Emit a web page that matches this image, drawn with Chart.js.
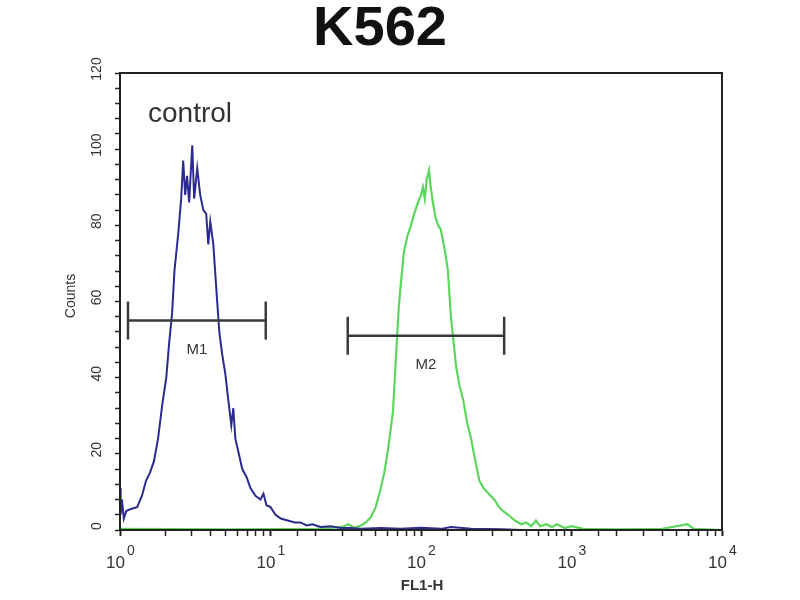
<!DOCTYPE html>
<html>
<head>
<meta charset="utf-8">
<script src="https://cdn.jsdelivr.net/npm/chart.js@4/dist/chart.umd.min.js"></script>
<style>
    html, body { margin: 0; padding: 0; background: #fff; }
</style>
</head>
<body>
<canvas id="histChart" width="800" height="600"></canvas>
<script>
// control histogram (blue)
const controlX = [1.0, 1.01, 1.03, 1.06, 1.1, 1.18, 1.3, 1.4, 1.49, 1.58, 1.68, 1.79, 1.91, 2.03, 2.12, 2.22,
    2.3, 2.44, 2.55, 2.63, 2.71, 2.79, 2.88, 3.02, 3.11, 3.26, 3.41, 3.58, 3.74, 3.86, 3.98, 4.17, 4.37,
    4.57, 4.78, 5.01, 5.25, 5.49, 5.66, 5.84, 6.12, 6.49, 6.92, 7.36, 7.94, 8.58, 8.98, 9.4, 10.0, 10.8,
    11.7, 13.0, 14.5, 15.8, 17.4, 19.0, 21.5, 25.1, 29.3, 34.1, 39.8, 54.1, 73.6, 100, 136, 158, 215,
    341, 464, 1000, 10000];
const controlY = [11, 4, 8, 3, 5, 5.5, 6, 9, 13, 15, 18, 24, 33, 40, 49, 57,
    68, 78, 87, 97, 88, 93, 86, 101, 87, 95, 88, 84, 83, 75, 81, 75, 63,
    52, 46, 41, 34, 27.5, 32, 24, 20.5, 16, 14, 11, 9, 8, 9.5, 6.5, 6, 4,
    3, 2.5, 2, 2, 1.2, 1.5, 0.8, 1, 0.5, 0.5, 0.3, 0.5, 0.3, 0.6, 0.3, 0.8, 0.3,
    0.2, 0, 0, 0];

// stained sample histogram (green)
const sampleX = [1.0, 5, 20, 30, 33, 36, 40, 43, 46.4, 50, 54.1, 57, 60.3, 65.1, 68.1, 71.3, 74, 77,
    81, 85.8, 90, 95.5, 100, 103, 106, 109, 113, 116, 120, 125, 130, 135, 140, 146, 151, 158, 164,
    171, 180, 191, 203, 215, 230, 244, 260, 275, 290, 307, 330, 350, 380, 420, 464, 500, 540, 580,
    620, 680, 740, 800, 900, 1000, 1200, 2000, 4000, 5900, 6500, 10000];
const sampleY = [0.3, 0.2, 0.3, 0.8, 1.5, 0.6, 1.2, 2, 3.4, 6, 11, 15, 21, 31, 45, 59, 66, 73,
    77, 80, 83, 86, 88, 90, 87, 92, 94.5, 90, 86, 82, 80, 79, 76, 72, 68, 56, 50,
    43, 38, 34, 28, 24, 18, 13, 11, 10, 9, 8, 6, 5, 4, 2.5, 1.5, 2, 1, 2.5,
    1, 1.5, 0.8, 1.5, 0.5, 1, 0.3, 0.2, 0.3, 1.5, 0.3, 0];

// gate markers
const m1Range = [1.13, 9.3];
const m1Level = 55;
const m2Range = [32.6, 357];
const m2Level = 51;

// axis labels
const yTickLabels = [0, 20, 40, 60, 80, 100, 120];
const xDecades = [0, 1, 2, 3, 4];

function toPoints(xs, ys) {
    return xs.map((v, i) => ({ x: v, y: ys[i] }));
}

function markerData(range, level) {
    return [{ x: range[0], y: level }, { x: range[1], y: level }];
}

const textPlugin = {
    id: 'histText',
    afterDraw(chart) {
        const { ctx, chartArea: a, scales: { x, y } } = chart;
        ctx.save();

        // frame round the plot
        ctx.strokeStyle = '#222';
        ctx.lineWidth = 2;
        ctx.strokeRect(a.left, a.top, a.right - a.left, a.bottom - a.top);

        // title
        ctx.fillStyle = '#111';
        ctx.font = 'bold 56px "Liberation Sans", Arial, sans-serif';
        ctx.textAlign = 'center';
        ctx.textBaseline = 'alphabetic';
        ctx.fillText('K562', 380, 45);

        ctx.fillStyle = '#333';
        ctx.font = '28px "Liberation Sans", Arial, sans-serif';
        ctx.textAlign = 'left';
        ctx.fillText('control', 148, 122);

        // marker labels
        ctx.font = '15px "Liberation Sans", Arial, sans-serif';
        ctx.textAlign = 'center';
        ctx.textBaseline = 'middle';
        ctx.fillText('M1', x.getPixelForValue(Math.sqrt(m1Range[0] * m1Range[1])), y.getPixelForValue(m1Level) + 29);
        ctx.fillText('M2', x.getPixelForValue(Math.sqrt(m2Range[0] * m2Range[1])), y.getPixelForValue(m2Level) + 29);

        // y tick labels, turned
        ctx.font = '14px "Liberation Sans", Arial, sans-serif';
        yTickLabels.forEach(v => {
            ctx.save();
            ctx.translate(97, y.getPixelForValue(v) - 4);
            ctx.rotate(-Math.PI / 2);
            ctx.fillText(String(v), 0, 0);
            ctx.restore();
        });

        // y axis title
        ctx.save();
        ctx.translate(71, 296);
        ctx.rotate(-Math.PI / 2);
        ctx.fillText('Counts', 0, 0);
        ctx.restore();

        // x tick labels 10^n
        ctx.textBaseline = 'alphabetic';
        xDecades.forEach(e => {
            const px = x.getPixelForValue(Math.pow(10, e));
            ctx.font = '17px "Liberation Sans", Arial, sans-serif';
            ctx.textAlign = 'right';
            ctx.fillText('10', px + 5, 568);
            ctx.font = '14px "Liberation Sans", Arial, sans-serif';
            ctx.textAlign = 'left';
            ctx.fillText(String(e), px + 7, 555);
        });

        // x axis title
        ctx.font = 'bold 15px "Liberation Sans", Arial, sans-serif';
        ctx.textAlign = 'center';
        ctx.fillText('FL1-H', 422, 590);

        ctx.restore();
    }
};

const markerStyle = {
    borderColor: '#3a3a3a',
    borderWidth: 2.5,
    pointStyle: 'line',
    pointRotation: 90,
    pointRadius: 19,
    pointBorderColor: '#3a3a3a',
    pointBorderWidth: 2.5,
    order: 0
};

new Chart(document.getElementById('histChart'), {
    type: 'line',
    data: {
        datasets: [
            Object.assign({ label: 'M1', data: markerData(m1Range, m1Level) }, markerStyle),
            Object.assign({ label: 'M2', data: markerData(m2Range, m2Level) }, markerStyle),
            {
                label: 'control',
                data: toPoints(controlX, controlY),
                borderColor: '#2b2b8f',
                borderWidth: 2,
                pointRadius: 0,
                tension: 0,
                order: 1
            },
            {
                label: 'K562',
                data: toPoints(sampleX, sampleY),
                borderColor: '#5cd65c',
                borderWidth: 2.2,
                pointRadius: 0,
                tension: 0,
                order: 2
            }
        ]
    },
    options: {
        responsive: false,
        animation: false,
        layout: { padding: { top: 73, right: 78, left: 0, bottom: 0 } },
        plugins: {
            legend: { display: false },
            tooltip: { enabled: false }
        },
        scales: {
            x: {
                type: 'logarithmic',
                min: 1,
                max: 10000,
                afterFit: scale => { scale.height = 70; },
                border: { color: '#222', width: 2 },
                grid: {
                    drawOnChartArea: false,
                    drawTicks: true,
                    tickLength: 6,
                    tickColor: '#222',
                    tickWidth: ctx => (ctx.tick && ctx.tick.major ? 2 : 1.5)
                },
                ticks: {
                    autoSkip: false,
                    major: { enabled: true },
                    callback: () => ''
                }
            },
            y: {
                type: 'linear',
                min: 0,
                max: 120,
                afterFit: scale => { scale.width = 120; },
                border: { color: '#222', width: 2 },
                grid: {
                    drawOnChartArea: false,
                    drawTicks: true,
                    tickLength: 5,
                    tickColor: '#222',
                    tickWidth: 1.5
                },
                ticks: {
                    stepSize: 4,
                    autoSkip: false,
                    callback: () => ''
                }
            }
        }
    },
    plugins: [textPlugin]
});
</script>
</body>
</html>
